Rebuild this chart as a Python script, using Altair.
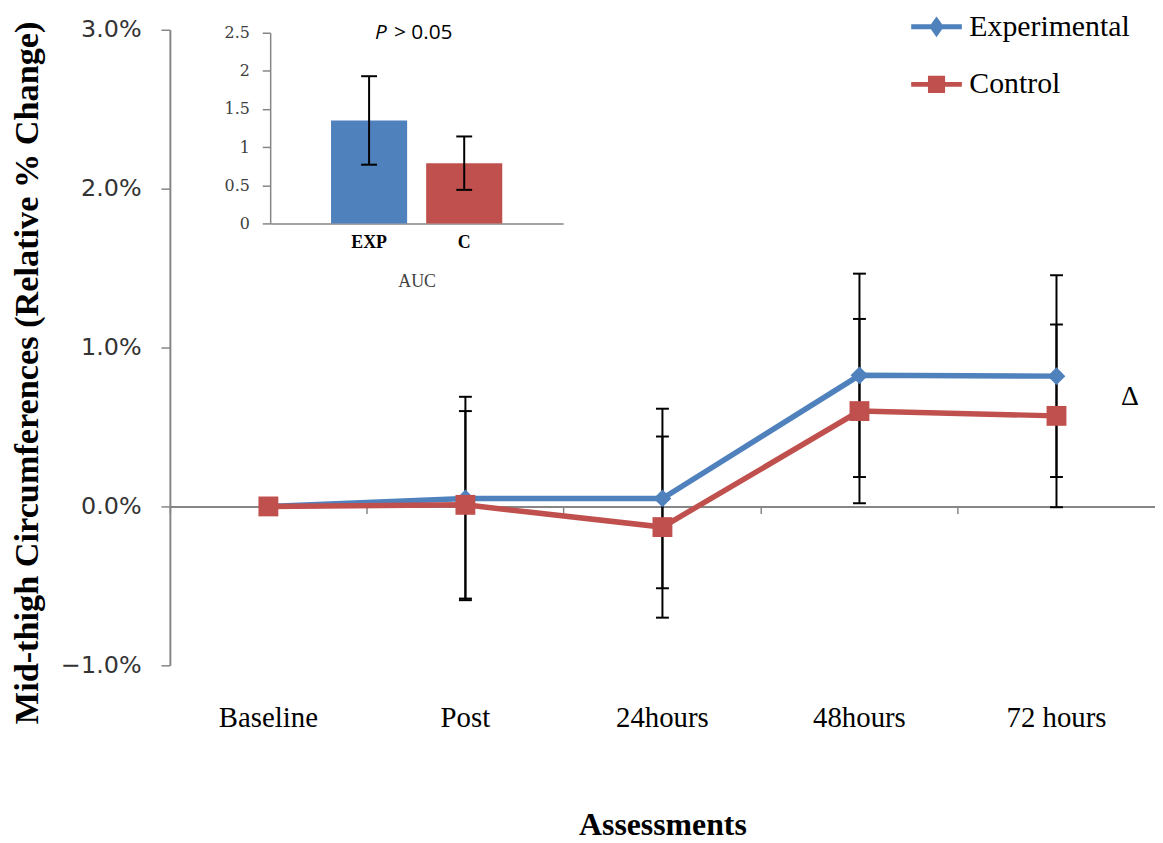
import altair as alt
import pandas as pd

# ---------------- data ----------------
categories = ["Baseline", "Post", "24hours", "48hours", "72 hours"]
series_names = ["Experimental", "Control"]
exp_mean = [0.0, 0.05, 0.05, 0.825, 0.82]
exp_err = [0.0, 0.64, 0.565, 0.64, 0.635]
con_mean = [0.0, 0.01, -0.13, 0.60, 0.57]
con_err = [0.0, 0.59, 0.57, 0.58, 0.575]

auc_groups = ["EXP", "C"]
auc_mean = [1.35, 0.79]
auc_err = [0.58, 0.35]

y_ticks = [-1, 0, 1, 2, 3]
inset_ticks = [0, 0.5, 1, 1.5, 2, 2.5]

BLUE = "#4F81BD"
RED = "#C0504D"
GRAY = "#868686"

rows = []
for name, means, errs in [("Experimental", exp_mean, exp_err), ("Control", con_mean, con_err)]:
    for c, m, e in zip(categories, means, errs):
        rows.append({"cat": c, "series": name, "mean": m, "err": e})
main_df = pd.DataFrame(rows)
auc_df = pd.DataFrame({"group": auc_groups, "auc": auc_mean, "err": auc_err})
legend_df = pd.DataFrame({"series": series_names})

# ---------------- main chart ----------------
x_axis = alt.Axis(
    title="Assessments", orient="bottom", offset=-160, bandPosition=0,
    domainColor=GRAY, domainWidth=2, tickColor=GRAY, tickWidth=1.5, tickSize=7,
    labelPadding=215, labelBaseline="alphabetic", labelAngle=0,
    labelFont="Liberation Serif", labelFontSize=29, labelColor="black", labelOverlap=False,
    titleFont="Liberation Serif", titleFontSize=32, titleFontWeight="bold", titleColor="black",
    titleY=330, titleBaseline="alphabetic", grid=False,
)
x_scale = alt.Scale(type="band", domain=categories, paddingInner=0, paddingOuter=0)
x_enc = alt.X("cat:N", sort=categories, scale=x_scale, axis=x_axis)

y_axis = alt.Axis(
    title="Mid-thigh Circumferences (Relative % Change)", values=y_ticks,
    labelExpr="format(datum.value, '.1f') + '%'",
    domainColor=GRAY, domainWidth=2, tickColor=GRAY, tickWidth=1.5, tickSize=9,
    labelFont="DejaVu Sans", labelFontSize=24, labelColor="#333333", labelPadding=20,
    titleFont="Liberation Serif", titleFontSize=34.5, titleFontWeight="bold", titleColor="black",
    titleX=-143, titleY=345, titleAngle=270, titleAlign="center", titleBaseline="middle",
    grid=False,
)
y_scale = alt.Scale(domain=[-1, 3], nice=False, zero=False)

base = alt.Chart(main_df)

err_base = base.transform_filter("datum.err > 0").transform_calculate(
    lo="datum.mean - datum.err", hi="datum.mean + datum.err"
)
err_rule = err_base.mark_rule(color="black", strokeWidth=2).encode(
    x=x_enc,
    y=alt.Y("lo:Q", scale=y_scale, axis=y_axis),
    y2="hi:Q",
)
err_caps = err_base.transform_fold(["lo", "hi"], as_=["end", "val"]).mark_tick(
    color="black", thickness=2, size=13, opacity=1
).encode(
    x=x_enc,
    y=alt.Y("val:Q", scale=y_scale, axis=y_axis),
)

is_exp = alt.datum.series == "Experimental"
lines = base.mark_line(strokeWidth=5.5).encode(
    x=x_enc,
    y=alt.Y("mean:Q", scale=y_scale, axis=y_axis),
    detail="series:N",
    color=alt.condition(is_exp, alt.value(BLUE), alt.value(RED)),
)
markers = base.mark_point(filled=True, opacity=1).encode(
    x=x_enc,
    y=alt.Y("mean:Q", scale=y_scale, axis=y_axis),
    shape=alt.condition(is_exp, alt.value("diamond"), alt.value("square")),
    size=alt.condition(is_exp, alt.value(320), alt.value(400)),
    color=alt.condition(is_exp, alt.value(BLUE), alt.value(RED)),
)

exp_path = "M-1,0H1M0,-0.24L0.17,0L0,0.24L-0.17,0Z"
con_path = "M-1,0H1M-0.24,-0.24H0.24V0.24H-0.24Z"
leg = alt.Legend(title=None, orient="none", legendX=744, legendY=-31)
legend_layer = alt.Chart(legend_df).transform_filter("false").mark_point(
    filled=True, opacity=1, strokeWidth=5
).encode(
    color=alt.Color("series:N", scale=alt.Scale(domain=series_names, range=[BLUE, RED]), legend=leg),
    stroke=alt.Stroke("series:N", scale=alt.Scale(domain=series_names, range=[BLUE, RED]), legend=leg),
    shape=alt.Shape("series:N", scale=alt.Scale(domain=series_names, range=[exp_path, con_path]), legend=leg),
)

delta = alt.Chart(pd.DataFrame({"cat": ["72 hours"]})).mark_text(
    text="Δ", font="Liberation Serif", fontSize=28, color="black", dx=74, baseline="middle"
).encode(
    x=x_enc,
    y=alt.YDatum(0.69, scale=y_scale, axis=y_axis),
)

main = alt.layer(err_rule, err_caps, lines, markers, legend_layer, delta)

# ---------------- inset bar chart ----------------
ix_scale = alt.Scale(type="band", domain=auc_groups, range=[101, 396], paddingInner=0.2, paddingOuter=0.64)
ix_axis = alt.Axis(
    orient="bottom", offset=-445, title="AUC", ticks=False,
    domainColor=GRAY, domainWidth=1.5,
    labelFont="Liberation Serif", labelFontWeight="bold", labelFontSize=18, labelColor="black",
    labelPadding=10, labelAngle=0,
    titleFont="Liberation Serif", titleFontSize=18, titleFontWeight="normal", titleColor="#404040",
    titleY=64, titleBaseline="alphabetic",
)
ix_enc = alt.X("group:N", sort=auc_groups, scale=ix_scale, axis=ix_axis)
iy_scale = alt.Scale(domain=[0, 2.5], range=[195, 3], nice=False)
iy_axis = alt.Axis(
    orient="left", offset=-101, values=inset_ticks, labelExpr="'' + datum.value", title=None,
    tickSize=8, tickColor=GRAY, tickWidth=1.5, domainColor=GRAY, domainWidth=1.5,
    labelFont="DejaVu Serif", labelFontSize=16, labelColor="#404040", labelPadding=13, grid=False,
)

ibase = alt.Chart(auc_df)
bars = ibase.mark_bar().encode(
    x=ix_enc,
    y=alt.Y("auc:Q", scale=iy_scale, axis=iy_axis),
    color=alt.condition(alt.datum.group == "EXP", alt.value(BLUE), alt.value(RED)),
)
ierr = ibase.transform_calculate(lo="datum.auc - datum.err", hi="datum.auc + datum.err")
irule = ierr.mark_rule(color="black", strokeWidth=2).encode(
    x=ix_enc, y=alt.Y("lo:Q", scale=iy_scale, axis=iy_axis), y2="hi:Q"
)
icaps = ierr.transform_fold(["lo", "hi"], as_=["end", "val"]).mark_tick(
    color="black", thickness=2, size=16, opacity=1
).encode(x=ix_enc, y=alt.Y("val:Q", scale=iy_scale, axis=iy_axis))

ann = alt.Chart(pd.DataFrame({"group": ["EXP"]}))
p_text = ann.mark_text(
    text="P", font="Open Sans", fontStyle="italic", fontSize=21, color="black",
    dx=12, align="center", baseline="middle"
).encode(x=ix_enc, y=alt.YDatum(2.5, scale=iy_scale, axis=iy_axis))
p_rest = ann.mark_text(
    text="> 0.05", font="Open Sans", fontSize=21, color="black",
    dx=25, align="left", baseline="middle"
).encode(x=ix_enc, y=alt.YDatum(2.5, scale=iy_scale, axis=iy_axis))

inset = alt.layer(bars, irule, icaps, p_text, p_rest)

chart = alt.layer(main, inset).resolve_scale(x="independent", y="independent").properties(
    width=992, height=640,
    padding={"left": 163, "top": 19, "right": 0, "bottom": 175},
    autosize=alt.AutoSizeParams(type="none"),
    background="white",
).configure_view(stroke=None).configure_legend(
    symbolSize=2601, symbolStrokeWidth=5, labelFont="Liberation Serif", labelFontSize=30,
    labelColor="black", rowPadding=13, labelOffset=5, padding=0, symbolOpacity=1, labelLimit=400,
)

chart.save("out.html", embed_options={"renderer": "svg", "actions": False})
